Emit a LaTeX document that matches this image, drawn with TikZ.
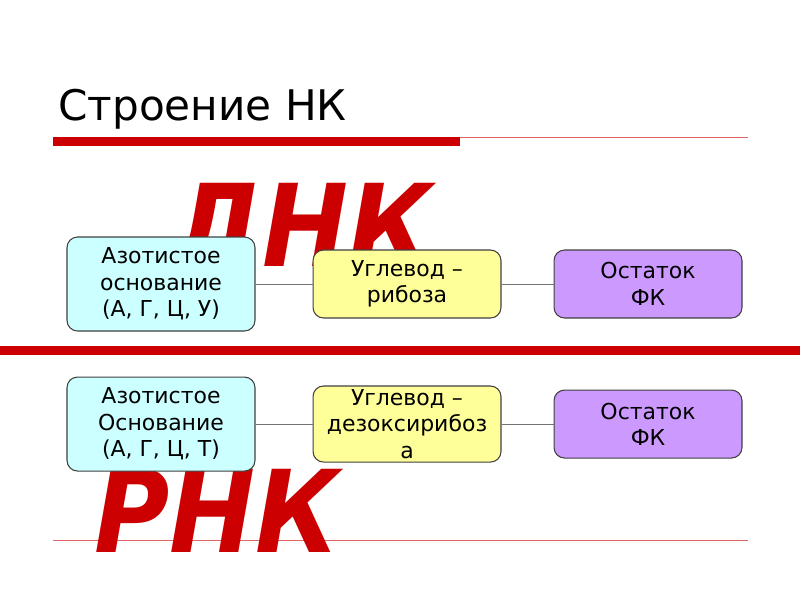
\documentclass[tikz,border=0pt]{standalone}
\usepackage{fontspec}
\setmainfont{DejaVu Sans}
\newfontfamily\bigletters{DejaVu Sans Condensed}
\usetikzlibrary{positioning}

\definecolor{slidered}{HTML}{CC0000}
\definecolor{basefill}{HTML}{CCFFFF}
\definecolor{sugarfill}{HTML}{FFFF99}
\definecolor{phosfill}{HTML}{CC99FF}

\begin{document}
\begin{tikzpicture}[
  x=0.02cm, y=-0.02cm,
  part box/.style={draw=black!75, semithick, rounded corners=6pt, align=center, font=\fontsize{12.5}{15}\selectfont, minimum width=3.76cm, inner sep=2pt},
  base box/.style={part box, fill=basefill, minimum height=1.88cm},
  sugar box/.style={part box, fill=sugarfill, minimum height=1.36cm},
  phos box/.style={part box, fill=phosfill, minimum height=1.36cm},
  link/.style={draw=black!55, thin},
  big label/.style={font=\bigletters\fontsize{65}{65}\selectfont\bfseries\itshape, text=slidered, inner sep=0pt}
]
  \useasboundingbox[fill=white] (0,0) rectangle (800,600);

  % title and rules
  \node[anchor=base west, inner sep=0pt, font=\fontsize{24}{29}\selectfont] (title) at (58,120) {Строение НК};
  \fill[slidered] (53,137) rectangle (460,146);
  \draw[slidered!60, thin] (460,137.5) -- (748,137.5);
  \fill[slidered] (0,346) rectangle (800,355);
  \draw[slidered!60, thin] (53,540) -- (748,540);

  % big labels
  \node[big label, anchor=north west] (dna label) at (171,183) {ДНК};
  \node[big label, anchor=north west] (rna label) at (94,469) {РНК};

  % upper row
  \node[base box] (dna base) at (161,284) {Азотистое\\основание\\(А, Г, Ц, У)};
  \node[sugar box, right=1.14cm of dna base] (dna sugar) {Углевод –\\рибоза};
  \node[phos box, right=1.04cm of dna sugar] (dna phos) {Остаток\\ФК};
  \draw[link] (dna base) -- (dna sugar);
  \draw[link] (dna sugar) -- (dna phos);

  % lower row
  \node[base box, below=0.9cm of dna base] (rna base) {Азотистое\\Основание\\(А, Г, Ц, Т)};
  \node[sugar box, right=1.14cm of rna base] (rna sugar) {Углевод –\\дезоксирибоз\\а};
  \node[phos box, right=1.04cm of rna sugar] (rna phos) {Остаток\\ФК};
  \draw[link] (rna base) -- (rna sugar);
  \draw[link] (rna sugar) -- (rna phos);
\end{tikzpicture}
\end{document}
